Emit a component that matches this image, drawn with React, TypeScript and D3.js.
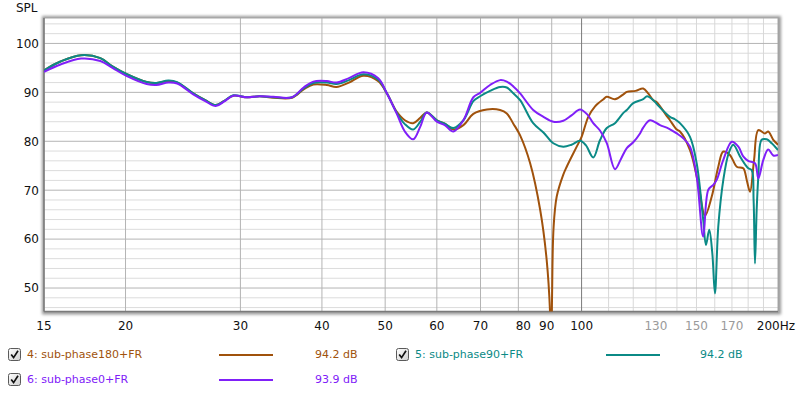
import React from 'react';
import * as d3 from 'd3';

// ---------- data ----------
const seriesNames = ['4: sub-phase180+FR', '5: sub-phase90+FR', '6: sub-phase0+FR'];
const seriesLevels = ['94.2 dB', '94.2 dB', '93.9 dB'];

const phase180: [number, number][] = [
  [15.0, 94.5], [15.9, 96.3], [17.1, 97.6], [18.3, 97.0], [19.1, 95.3], [20.1, 93.7],
  [21.55, 92.1], [22.3, 91.9], [23.26, 92.3], [24.0, 92.0], [25.4, 89.8], [26.5, 88.4],
  [27.5, 87.4], [28.3, 88.2], [29.25, 89.3], [30.7, 89.0], [32.1, 89.2], [33.7, 88.9],
  [36.0, 88.9], [37.5, 90.6], [38.8, 91.6], [40.7, 91.5], [42.1, 91.1], [44.0, 92.0],
  [46.3, 93.4], [48.8, 92.3], [50.3, 89.8], [52.1, 86.0], [53.6, 84.3], [55.2, 83.7],
  [56.6, 84.8], [57.9, 85.9], [60.0, 84.3], [61.7, 83.6], [63.6, 82.4], [65.9, 83.3],
  [68.25, 85.6], [71.6, 86.5], [75.0, 86.4], [76.8, 85.7], [78.6, 83.6], [80.5, 81.2],
  [83.4, 75.5], [86.4, 66.0], [88.4, 55.8], [89.5, 44.5], [89.8, 30.0], [90.1, 48.0],
  [90.6, 62.5], [91.6, 68.7], [93.75, 73.2], [94.9, 74.8], [98.3, 78.9], [100.0, 80.9],
  [102.4, 85.0], [104.8, 87.1], [108.0, 88.6], [109.3, 89.1], [112.5, 88.6], [115.9, 89.6],
  [117.3, 90.1], [121.0, 90.3], [124.3, 90.8], [126.5, 89.8], [128.8, 88.4], [130.4, 88.0],
  [135.0, 85.2], [136.6, 84.3], [139.9, 82.4], [141.5, 82.0], [146.6, 78.2], [150.9, 71.4],
  [154.6, 64.8], [158.3, 68.7], [162.0, 74.8], [164.9, 77.9], [168.8, 77.2], [172.9, 74.8],
  [176.9, 74.5], [179.1, 72.1], [181.2, 69.7], [183.8, 76.2], [186.6, 82.3], [191.0, 81.6],
  [193.2, 82.0], [196.7, 80.3], [200.0, 79.3],
];

const phase90: [number, number][] = [
  [15.0, 94.5], [15.9, 96.3], [17.1, 97.6], [18.3, 97.0], [19.1, 95.3], [20.1, 93.7],
  [21.55, 92.1], [22.3, 91.9], [23.26, 92.4], [24.0, 92.1], [25.4, 89.8], [26.5, 88.4],
  [27.5, 87.4], [28.3, 88.2], [29.25, 89.4], [30.7, 89.0], [32.1, 89.2], [33.7, 89.0],
  [36.0, 89.0], [37.5, 90.8], [38.8, 91.9], [40.7, 92.0], [42.1, 91.7], [44.0, 92.5],
  [46.3, 93.7], [48.8, 92.6], [50.3, 89.8], [52.1, 85.8], [53.6, 83.5], [55.2, 82.4],
  [56.6, 84.0], [57.9, 85.9], [60.0, 84.3], [61.7, 83.6], [63.6, 82.7], [65.9, 84.3],
  [68.25, 88.2], [69.9, 89.2], [72.4, 90.3], [75.0, 91.1], [76.8, 91.0], [78.6, 89.8],
  [80.5, 88.4], [84.3, 83.7], [87.4, 81.8], [90.5, 79.6], [93.75, 78.9], [96.5, 79.3],
  [99.45, 80.1], [101.5, 79.2], [104.2, 76.7], [106.7, 80.2], [109.3, 82.7], [112.5, 83.7],
  [115.9, 85.8], [117.3, 86.4], [120.0, 87.8], [124.3, 88.6], [126.0, 89.2], [128.8, 88.4],
  [130.4, 87.6], [136.6, 85.0], [139.0, 84.5], [141.5, 83.7], [146.6, 80.9], [150.1, 75.5],
  [153.6, 64.0], [155.1, 58.8], [156.9, 61.9], [158.6, 57.2], [160.1, 48.9], [162.0, 62.6],
  [164.9, 72.1], [168.0, 77.5], [170.8, 79.3], [174.9, 76.9], [178.0, 75.3], [180.1, 74.5],
  [182.3, 74.1], [183.5, 68.0], [184.4, 55.0], [185.5, 66.0], [186.6, 72.8], [188.8, 80.3],
  [192.2, 80.4], [195.6, 79.6], [200.0, 78.2],
];

const phase0: [number, number][] = [
  [15.0, 94.2], [15.9, 95.7], [17.1, 96.9], [18.3, 96.4], [19.1, 95.0], [20.1, 93.3],
  [21.55, 91.7], [22.3, 91.5], [23.26, 92.0], [24.0, 91.8], [25.4, 89.6], [26.5, 88.2],
  [27.5, 87.2], [28.3, 88.1], [29.25, 89.3], [30.7, 89.0], [32.1, 89.2], [33.7, 89.1],
  [36.0, 89.0], [37.5, 91.0], [38.8, 92.2], [40.7, 92.3], [42.1, 92.0], [44.0, 92.9],
  [46.3, 94.1], [48.8, 92.9], [50.3, 89.8], [52.1, 85.6], [53.6, 82.0], [55.2, 80.4],
  [56.6, 83.0], [57.9, 85.9], [60.0, 84.0], [61.7, 83.3], [63.6, 82.0], [65.9, 84.3],
  [68.25, 89.0], [69.9, 89.9], [72.4, 91.5], [75.0, 92.5], [76.8, 92.2], [78.6, 91.2],
  [80.5, 89.8], [84.3, 86.4], [87.4, 85.0], [90.5, 84.0], [93.75, 84.2], [96.5, 85.3],
  [99.45, 86.5], [102.0, 85.5], [104.2, 83.7], [106.7, 82.2], [109.3, 79.6], [112.5, 74.3],
  [115.0, 76.5], [117.3, 78.6], [120.0, 79.8], [122.9, 81.6], [124.3, 82.8], [127.3, 84.3],
  [131.9, 83.3], [136.0, 82.6], [139.9, 81.6], [143.2, 80.6], [146.6, 78.9], [150.1, 72.8],
  [153.6, 60.5], [156.4, 70.1], [159.2, 71.1], [161.1, 72.1], [164.9, 76.2], [169.9, 79.9],
  [173.9, 78.9], [176.9, 76.9], [180.0, 76.0], [184.4, 75.5], [186.6, 72.4], [189.9, 76.2],
  [193.2, 78.3], [196.7, 77.1], [200.0, 77.2],
];

const xTicks = [15, 20, 30, 40, 50, 60, 70, 80, 90, 100, 130, 150, 170, 200];
const xTickLabels = ['15', '20', '30', '40', '50', '60', '70', '80', '90', '100', '130', '150', '170', '200Hz'];
const faintXTicks = [130, 150, 170];
const majorVLines = [20, 30, 40, 50, 60, 70, 80, 90];
const minorVLines = [110, 120, 130, 140, 150, 160, 170, 180, 190];
const yTicks = [50, 60, 70, 80, 90, 100];
const yMinor = [46, 48, 52, 54, 56, 58, 62, 64, 66, 68, 72, 74, 76, 78, 82, 84, 86, 88, 92, 94, 96, 98, 102, 104];

// ---------- layout / style ----------
const W = 800, H = 393;
const PL = 44, PR = 778, PT = 18, PB = 311.5;
const colors = ['#a0520c', '#0b8a86', '#8020f8'];
const FONT = 'DejaVu Sans, Verdana, sans-serif';
const labelNudge: Record<number, number> = { 80: 5, 90: -5 };

const x = d3.scaleLog().domain([15, 200]).range([PL, PR]);
const y = d3.scaleLinear().domain([45.2, 105.2]).range([PB, PT]);
const line = d3.line<[number, number]>()
  .x(d => x(d[0]))
  .y(d => y(d[1]))
  .curve(d3.curveCatmullRom.alpha(0.5));

const allSeries = [phase180, phase90, phase0];

const legendLayout = [
  { cx: 8, tx: 27, lx0: 219, lx1: 273, vx: 315, row: 0 },
  { cx: 396, tx: 415, lx0: 606, lx1: 660, vx: 700, row: 0 },
  { cx: 8, tx: 27, lx0: 219, lx1: 273, vx: 315, row: 1 },
];
const rowY = [354, 379];

function CheckBox({ px, py }: { px: number; py: number }) {
  return (
    <g>
      <rect x={px + 0.5} y={py + 0.5} width={12} height={12} rx={2} fill="url(#cbGrad)" stroke="#5a5a5a" strokeWidth={1} />
      <path d={`M${px + 3.2},${py + 6.5} L${px + 5.6},${py + 9.6} L${px + 10},${py + 2.8}`} fill="none" stroke="#111" strokeWidth={1.7} />
    </g>
  );
}

export default function App() {
  return (
    <svg width={W} height={H} style={{ position: 'absolute', left: 0, top: 0, background: '#fff' }} fontFamily={FONT}>
      <defs>
        <clipPath id="plotClip">
          <rect x={PL} y={PT} width={PR - PL} height={PB - PT} />
        </clipPath>
        <filter id="shadow" x="-5%" y="-5%" width="110%" height="110%">
          <feGaussianBlur stdDeviation={1.6} />
        </filter>
        <linearGradient id="cbGrad" x1="0" y1="0" x2="1" y2="1">
          <stop offset="0" stopColor="#ffffff" />
          <stop offset="1" stopColor="#cfcfcf" />
        </linearGradient>
      </defs>
      <rect x={0} y={0} width={W} height={H} fill="#fff" />
      {/* frame shadow */}
      <rect x={PL - 2} y={PT - 2} width={PR - PL + 5} height={PB - PT + 5} fill="#9a9a9a" filter="url(#shadow)" />
      <rect x={PL} y={PT} width={PR - PL} height={PB - PT} fill="#fff" />

      {/* grid */}
      {yMinor.map(v => (
        <line key={'ym' + v} x1={PL} x2={PR} y1={y(v)} y2={y(v)} stroke="#dcdcdc" strokeWidth={1} />
      ))}
      {minorVLines.map(v => (
        <line key={'vm' + v} x1={x(v)} x2={x(v)} y1={PT} y2={PB} stroke="#d8d8d8" strokeWidth={1} />
      ))}
      {yTicks.map(v => (
        <line key={'yM' + v} x1={PL} x2={PR} y1={y(v)} y2={y(v)} stroke="#b4b4b4" strokeWidth={1} />
      ))}
      {majorVLines.map(v => (
        <line key={'vM' + v} x1={x(v)} x2={x(v)} y1={PT} y2={PB} stroke="#b4b4b4" strokeWidth={1} />
      ))}
      <line x1={x(100)} x2={x(100)} y1={PT} y2={PB} stroke="#7a7a7a" strokeWidth={1} />

      {/* frame border */}
      <rect x={PL} y={PT} width={PR - PL} height={PB - PT} fill="none" stroke="#a8a8a8" strokeWidth={1} />
      <line x1={PL} x2={PL} y1={PT} y2={PB} stroke="#7a7a7a" strokeWidth={1.5} />
      <line x1={PL} x2={PR} y1={PB} y2={PB} stroke="#7a7a7a" strokeWidth={1.5} />

      {/* series */}
      <g clipPath="url(#plotClip)">
        {allSeries.map((s, i) => (
          <path key={i} d={line(s) || ''} fill="none" stroke={colors[i]} strokeWidth={2} strokeLinejoin="round" />
        ))}
      </g>

      {/* axes labels */}
      <text x={16} y={12} fontSize={12} fill="#111">SPL</text>
      {yTicks.map(v => (
        <text key={'yl' + v} x={39} y={y(v)} dy="0.36em" fontSize={12} textAnchor="end" fill="#111">{v}</text>
      ))}
      {xTicks.map((v, i) => {
        const last = i === xTicks.length - 1;
        return (
          <text key={'xl' + v}
            x={last ? 795 : x(v) + (labelNudge[v] || 0)}
            y={329.5}
            fontSize={12}
            textAnchor={last ? 'end' : 'middle'}
            fill={faintXTicks.includes(v) ? '#9a9a9a' : '#111'}>
            {xTickLabels[i]}
          </text>
        );
      })}

      {/* legend */}
      {seriesNames.map((name, i) => {
        const L = legendLayout[i];
        const ry = rowY[L.row];
        return (
          <g key={'lg' + i}>
            <CheckBox px={L.cx} py={ry - 6} />
            <text x={L.tx} y={ry + 4} fontSize={11} fill={colors[i]}>{name}</text>
            <line x1={L.lx0} x2={L.lx1} y1={ry + 1} y2={ry + 1} stroke={colors[i]} strokeWidth={2.2} />
            <text x={L.vx} y={ry + 4} fontSize={11} fill={colors[i]}>{seriesLevels[i]}</text>
          </g>
        );
      })}
    </svg>
  );
}
